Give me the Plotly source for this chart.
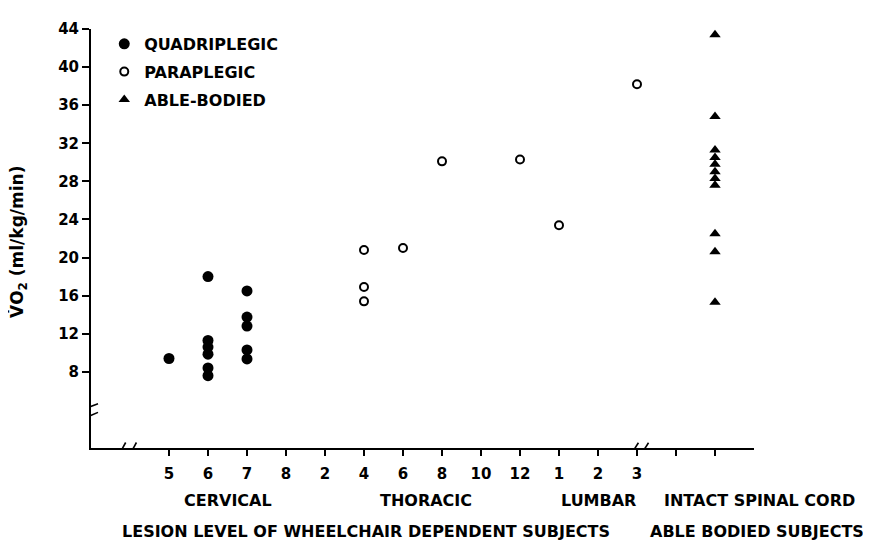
import plotly.graph_objects as go

# ---- data ----
level_keys = ["C5", "C6", "C7", "C8", "T2", "T4", "T6", "T8", "T10", "T12",
              "L1", "L2", "L3", "I1", "I2"]
tick_labels = ["5", "6", "7", "8", "2", "4", "6", "8", "10", "12",
               "1", "2", "3", "", ""]

quad_level = ["C5", "C6", "C6", "C6", "C6", "C6", "C6",
              "C7", "C7", "C7", "C7", "C7"]
quad_vo2 = [9.4, 18.0, 11.3, 10.6, 9.85, 8.4, 7.6,
            16.5, 13.75, 12.8, 10.3, 9.35]

para_level = ["T4", "T4", "T4", "T6", "T8", "T12", "L1", "L3"]
para_vo2 = [20.8, 16.9, 15.4, 21.0, 30.1, 30.3, 23.4, 38.2]

able_level = ["I2"] * 11
able_vo2 = [43.4, 34.8, 31.3, 30.5, 29.8, 29.0, 28.3, 27.6, 22.5, 20.6, 15.3]

y_ticks = [8, 12, 16, 20, 24, 28, 32, 36, 40, 44]

category_labels = ["CERVICAL", "THORACIC", "LUMBAR", "INTACT SPINAL CORD"]
category_xpaper = [0.2066, 0.506, 0.766, 1.009]
group_labels = ["LESION LEVEL OF WHEELCHAIR DEPENDENT SUBJECTS", "ABLE BODIED SUBJECTS"]
group_xpaper = [0.4155, 1.005]

pos = {k: i for i, k in enumerate(level_keys)}

FONT = dict(family="DejaVu Sans", size=16, color="black", weight="bold")
TICKFONT = dict(family="DejaVu Sans", size=15, color="black", weight="bold")

fig = go.Figure()
fig.add_trace(go.Scatter(
    x=[pos[k] for k in quad_level], y=quad_vo2, mode="markers",
    name="QUADRIPLEGIC", legendgroup="q",
    marker=dict(symbol="circle", size=11, color="black", line=dict(width=0)),
    cliponaxis=False))
fig.add_trace(go.Scatter(
    x=[pos[k] for k in para_level], y=para_vo2, mode="markers",
    name="PARAPLEGIC", legendgroup="p",
    marker=dict(symbol="circle-open", size=8, color="black", line=dict(width=2, color="black")),
    cliponaxis=False))
fig.add_trace(go.Scatter(
    x=[pos[k] for k in able_level], y=able_vo2, mode="markers",
    name="ABLE-BODIED", legendgroup="a",
    marker=dict(symbol="triangle-up", size=10, color="black", line=dict(width=0)),
    cliponaxis=False))

# ---- axis break decorations ----
shapes = []
def brk_gap(xa, ya, x0, x1, y0, y1):
    shapes.append(dict(type="rect", xref="x", yref="y", xsizemode="pixel", ysizemode="pixel",
                       xanchor=xa, yanchor=ya, x0=x0, x1=x1, y0=y0, y1=y1,
                       fillcolor="white", line=dict(width=0), layer="above"))
def brk_line(xa, ya, x0, y0, x1, y1):
    shapes.append(dict(type="line", xref="x", yref="y", xsizemode="pixel", ysizemode="pixel",
                       xanchor=xa, yanchor=ya, x0=x0, x1=x1, y0=y0, y1=y1,
                       line=dict(color="black", width=1.6), layer="above"))

# y-axis break
brk_gap(-2, 3.9, -3, 3, -4.5, 4.5)
brk_line(-2, 3.9, -9, 1.2, 7, 7.2)
brk_line(-2, 3.9, -7.5, -7.8, 7, -1.5)
# x-axis break (left)
brk_gap(-1.05, 0, -5, 5, -3, 3)
brk_line(-1.05, 0, -8.4, -5.5, -2.4, 5.5)
brk_line(-1.05, 0, 2.4, -5.5, 8.4, 5.5)
# x-axis break (right, at L3)
brk_gap(12.08, 0, -5, 5, -9, 2)
brk_line(12.08, 0, -8.4, -5.2, -1.7, 5.2)
brk_line(12.08, 0, 1.7, -5.2, 8.4, 5.2)

annotations = []
for t, xp in zip(category_labels, category_xpaper):
    annotations.append(dict(text=t, x=xp, xref="paper", xanchor="center", y=0, yref="paper",
                            yanchor="middle", yshift=-52, showarrow=False, font=FONT))
for t, xp in zip(group_labels, group_xpaper):
    annotations.append(dict(text=t, x=xp, xref="paper", xanchor="center", y=0, yref="paper",
                            yanchor="middle", yshift=-83, showarrow=False, font=FONT))
annotations.append(dict(text="V\u0307O<sub>2</sub> (ml/kg/min)", x=0, xref="paper", xshift=-86,
                        xanchor="left", y=0.5, yref="paper", yanchor="middle", yshift=-4,
                        textangle=-90, showarrow=False,
                        font=dict(family="DejaVu Sans", size=17, color="black", weight="bold")))

# page body has an 8px margin: size/margins compensate so the plot lands where the reference has it
fig.update_layout(
    width=863, height=532,
    margin=dict(l=83, r=117, t=12, b=92),
    paper_bgcolor="white", plot_bgcolor="white",
    font=FONT,
    showlegend=True,
    legend=dict(x=0.02, y=1.005, xanchor="left", yanchor="top", bgcolor="rgba(0,0,0,0)",
                font=FONT, tracegroupgap=4, itemwidth=30),
    shapes=shapes,
    annotations=annotations,
    xaxis=dict(range=[-2, 15], tickmode="array", tickvals=list(range(len(tick_labels))),
               ticktext=tick_labels, showgrid=False, zeroline=False, showline=True,
               linecolor="black", linewidth=2, ticks="outside", ticklen=6, tickwidth=1.6,
               tickcolor="black", tickfont=TICKFONT, ticklabelstandoff=5,
               fixedrange=True),
    yaxis=dict(range=[0, 44], tickmode="array", tickvals=y_ticks, showgrid=False, zeroline=False,
               showline=True, linecolor="black", linewidth=2, ticks="outside", ticklen=7,
               tickwidth=1.6, tickcolor="black", tickfont=TICKFONT,
               fixedrange=True),
)

fig.write_html("out.html")
